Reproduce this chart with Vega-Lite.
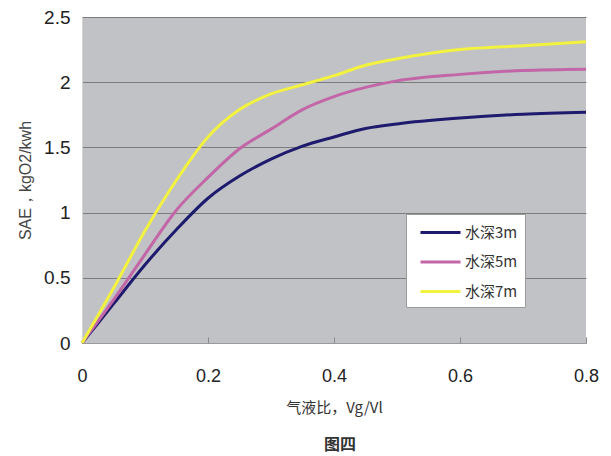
{
  "$schema": "https://vega.github.io/schema/vega-lite/v6.json",
  "width": 504,
  "height": 326,
  "autosize": "none",
  "padding": {"left": 82, "top": 17, "right": 25, "bottom": 113},
  "background": "white",
  "title": {"text": "图四", "orient": "bottom", "anchor": "middle", "offset": 22, "fontSize": 16, "font": "Noto Sans CJK SC", "fontWeight": "bold", "color": "#333333", "dx": 6},
  "config": {
    "view": {"fill": "#C1C2C5", "stroke": null},
    "font": "Liberation Sans"
  },
  "data": {"values": [
    {"x": 0, "v": 0, "s": "水深3m"},
    {"x": 0.05, "v": 0.3, "s": "水深3m"},
    {"x": 0.1, "v": 0.6, "s": "水深3m"},
    {"x": 0.15, "v": 0.87, "s": "水深3m"},
    {"x": 0.2, "v": 1.11, "s": "水深3m"},
    {"x": 0.25, "v": 1.28, "s": "水深3m"},
    {"x": 0.3, "v": 1.41, "s": "水深3m"},
    {"x": 0.35, "v": 1.51, "s": "水深3m"},
    {"x": 0.4, "v": 1.58, "s": "水深3m"},
    {"x": 0.45, "v": 1.645, "s": "水深3m"},
    {"x": 0.5, "v": 1.68, "s": "水深3m"},
    {"x": 0.6, "v": 1.725, "s": "水深3m"},
    {"x": 0.7, "v": 1.755, "s": "水深3m"},
    {"x": 0.8, "v": 1.77, "s": "水深3m"},
    {"x": 0, "v": 0, "s": "水深5m"},
    {"x": 0.05, "v": 0.33, "s": "水深5m"},
    {"x": 0.1, "v": 0.68, "s": "水深5m"},
    {"x": 0.15, "v": 1.02, "s": "水深5m"},
    {"x": 0.2, "v": 1.27, "s": "水深5m"},
    {"x": 0.25, "v": 1.49, "s": "水深5m"},
    {"x": 0.3, "v": 1.64, "s": "水深5m"},
    {"x": 0.35, "v": 1.79, "s": "水深5m"},
    {"x": 0.4, "v": 1.89, "s": "水深5m"},
    {"x": 0.45, "v": 1.96, "s": "水深5m"},
    {"x": 0.5, "v": 2.01, "s": "水深5m"},
    {"x": 0.6, "v": 2.06, "s": "水深5m"},
    {"x": 0.7, "v": 2.09, "s": "水深5m"},
    {"x": 0.8, "v": 2.1, "s": "水深5m"},
    {"x": 0, "v": 0, "s": "水深7m"},
    {"x": 0.05, "v": 0.42, "s": "水深7m"},
    {"x": 0.1, "v": 0.86, "s": "水深7m"},
    {"x": 0.15, "v": 1.25, "s": "水深7m"},
    {"x": 0.2, "v": 1.58, "s": "水深7m"},
    {"x": 0.25, "v": 1.79, "s": "水深7m"},
    {"x": 0.3, "v": 1.91, "s": "水深7m"},
    {"x": 0.35, "v": 1.98, "s": "水深7m"},
    {"x": 0.4, "v": 2.05, "s": "水深7m"},
    {"x": 0.45, "v": 2.13, "s": "水深7m"},
    {"x": 0.5, "v": 2.18, "s": "水深7m"},
    {"x": 0.55, "v": 2.22, "s": "水深7m"},
    {"x": 0.6, "v": 2.25, "s": "水深7m"},
    {"x": 0.7, "v": 2.28, "s": "水深7m"},
    {"x": 0.8, "v": 2.31, "s": "水深7m"}
  ]},
  "mark": {"type": "line", "strokeWidth": 3, "interpolate": "monotone"},
  "encoding": {
    "x": {
      "field": "x", "type": "quantitative",
      "scale": {"domain": [0, 0.8], "nice": false},
      "axis": {
        "values": [0, 0.2, 0.4, 0.6, 0.8], "format": "~g", "labelFlush": false,
        "title": "气液比，Vg/Vl", "titleFont": "Noto Sans CJK SC", "titleFontSize": 15, "titleFontWeight": "normal", "titleColor": "#333333", "titlePadding": 15,
        "labelFontSize": 18, "labelColor": "#222222", "labelPadding": 30, "labelFont": "Liberation Sans",
        "grid": false, "domainColor": "#9a9a9a", "tickColor": "#8a8a8a", "tickSize": -6, "ticks": true
      }
    },
    "y": {
      "field": "v", "type": "quantitative",
      "scale": {"domain": [0, 2.5], "nice": false},
      "axis": {
        "values": [0, 0.5, 1, 1.5, 2, 2.5], "format": "~g", "labelFlush": false,
        "title": "SAE，kgO2/kwh", "titleFont": "Liberation Sans", "titleFontSize": 16, "titleFontWeight": "normal", "titleColor": "#444444", "titlePadding": 10,
        "labelFontSize": 19, "labelColor": "#222222", "labelPadding": 12,
        "ticks": false, "domainColor": "#d4d4d4",
        "grid": true, "gridColor": "#7c7c7c", "gridWidth": 1
      }
    },
    "color": {
      "field": "s", "type": "nominal",
      "scale": {"domain": ["水深3m", "水深5m", "水深7m"], "range": ["#1E1B6E", "#C266A8", "#F2F23F"]},
      "legend": {
        "title": null, "orient": "none", "legendX": 324, "legendY": 197,
        "fillColor": "white", "strokeColor": "#9a9a9a", "padding": 7,
        "symbolType": "M-2,0H2", "symbolSize": 400, "symbolStrokeWidth": 3, "symbolOffset": 16,
        "rowPadding": 9.5, "labelFont": "Noto Sans CJK SC", "labelFontSize": 15, "labelColor": "#333333", "labelOffset": 13
      }
    }
  }
}
